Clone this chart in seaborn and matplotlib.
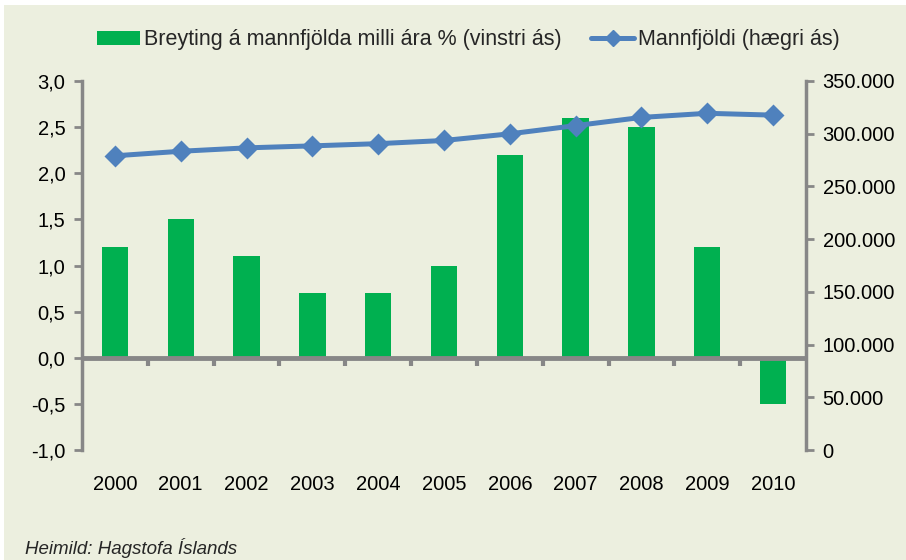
import matplotlib
matplotlib.use('Agg')
import matplotlib.pyplot as plt
import matplotlib.ticker as ticker
from matplotlib.patches import Patch, Rectangle
from matplotlib.lines import Line2D
import numpy as np
import pandas as pd
import seaborn as sns

years = ['2000', '2001', '2002', '2003', '2004', '2005',
         '2006', '2007', '2008', '2009', '2010']
change_pct = [1.2, 1.5, 1.1, 0.7, 0.7, 1.0, 2.2, 2.6, 2.5, 1.2, -0.5]
population = [279049, 283361, 286575, 288471, 290570, 293577,
              299891, 307672, 315459, 319368, 317630]

bar_label = 'Breyting á mannfjölda milli ára % (vinstri ás)'
line_label = 'Mannfjöldi (hægri ás)'
source_text = 'Heimild: Hagstofa Íslands'

bg = '#ECEFDF'
green = '#00B050'
blue = '#4F81BD'
grey = '#878787'

df = pd.DataFrame({'year': years, 'change': change_pct, 'pop': population})

sns.set_theme(style='white')
plt.rcParams['font.family'] = ['Liberation Sans', 'DejaVu Sans']

fig = plt.figure(figsize=(9.06, 5.6), dpi=100, facecolor='white')
# light panel behind the whole chart, leaving a thin white edge
fig.patches.append(Rectangle((4 / 906, 0), 1, 1 - 5 / 560, transform=fig.transFigure,
                             facecolor=bg, edgecolor='none', zorder=-10))

ax = fig.add_axes([82 / 906, 1 - 450 / 560, 724 / 906, 369 / 560])
ax.set_facecolor('none')

sns.barplot(data=df, x='year', y='change', color=green, width=0.4,
            saturation=1, linewidth=0, ax=ax, zorder=2)
ax.set_xlim(-0.5, len(years) - 0.5)
ax.set_ylim(-1, 3)
ax.yaxis.set_major_locator(ticker.MultipleLocator(0.5))
ax.yaxis.set_major_formatter(ticker.FuncFormatter(lambda v, p: f'{v:.1f}'.replace('.', ',')))
ax.set_xlabel('')
ax.set_ylabel('')

# zero line with little ticks between the years
ax.axhline(0, color=grey, linewidth=3.5, zorder=3)
for b in np.arange(0.5, len(years) - 0.5, 1):
    ax.plot([b, b], [0, -0.09], color=grey, linewidth=3, zorder=3, solid_capstyle='butt')

ax2 = ax.twinx()
ax2.set_facecolor('none')
sns.pointplot(data=df, x='year', y='pop', color=blue, markers='D',
              linestyles='-', ax=ax2, zorder=4)
for ln in ax2.lines:
    ln.set_linewidth(3.6)
    ln.set_markersize(9.5)
ax2.set_ylim(0, 350000)
ax2.yaxis.set_major_locator(ticker.MultipleLocator(50000))
ax2.yaxis.set_major_formatter(ticker.FuncFormatter(lambda v, p: f'{int(v):,}'.replace(',', '.')))
ax2.set_xlabel('')
ax2.set_ylabel('')
ax.set_xlim(-0.5, len(years) - 0.5)

for a in (ax, ax2):
    for s in ('top', 'bottom'):
        a.spines[s].set_visible(False)
    a.spines['left'].set_visible(a is ax)
    a.spines['right'].set_visible(a is ax2)
    for s in ('left', 'right'):
        a.spines[s].set_color(grey)
        a.spines[s].set_linewidth(2.5)
    a.tick_params(axis='y', which='major', direction='out', length=6, width=2,
                  color=grey, labelsize=14.5, labelcolor='black', pad=6)

ax.tick_params(axis='x', length=0, labelsize=14.5, labelcolor='black', pad=18)
ax2.tick_params(axis='x', length=0)

handles = [Patch(facecolor=green, edgecolor='none'),
           Line2D([], [], color=blue, linewidth=3.6, marker='D', markersize=8)]
fig.legend(handles, [bar_label, line_label], loc='center', ncol=2,
           bbox_to_anchor=(0.517, 1 - 40 / 560), frameon=False, fontsize=15.5,
           handlelength=2.0, handleheight=0.6, handletextpad=0.15, columnspacing=1.4)

fig.text(25 / 906, 1 - 548 / 560, source_text, fontsize=13.5, style='italic',
         ha='left', va='center')

fig.savefig('out.png', dpi=100, facecolor=fig.get_facecolor())
plt.close(fig)
